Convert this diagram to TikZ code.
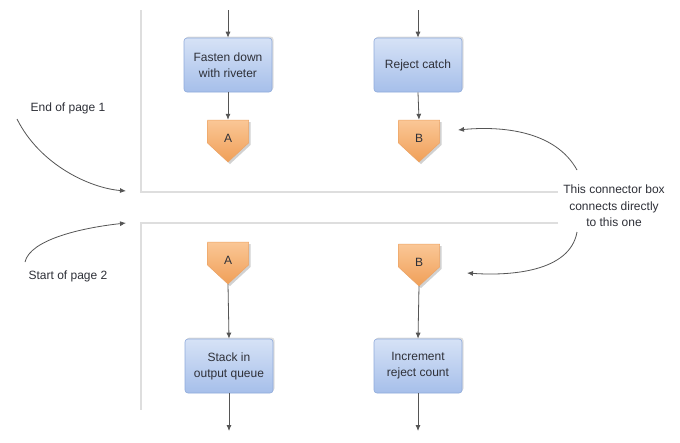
\documentclass[tikz,border=0pt]{standalone}
\usepackage{fontspec}
\setmainfont{Liberation Sans}
\usetikzlibrary{arrows.meta,shadows}
\definecolor{txt}{HTML}{2E3038}
\definecolor{arr}{HTML}{555555}
\definecolor{frm}{HTML}{DEDEDE}
\definecolor{boxtop}{HTML}{D6E2F6}
\definecolor{boxbot}{HTML}{A6BFEA}
\definecolor{boxedge}{HTML}{8FAADB}
\definecolor{contop}{HTML}{FAC796}
\definecolor{conbot}{HTML}{F09F58}
\definecolor{conedge}{HTML}{EDA465}
\tikzset{
  stepbox/.style={rectangle, rounded corners=3pt, draw=boxedge, line width=0.6pt,
    top color=boxtop, bottom color=boxbot, minimum width=88pt, minimum height=54pt,
    align=center, text=txt, font=\fontsize{12}{16}\selectfont,
    drop shadow={shadow xshift=1.5pt, shadow yshift=1.5pt, opacity=0.25}},
  conlabel/.style={inner sep=0pt, minimum width=41pt, minimum height=42pt, text=txt,
    font=\fontsize{12}{14}\selectfont},
  note/.style={align=center, text=txt, font=\fontsize{12}{16.5}\selectfont},
  flow/.style={draw=arr, line width=0.8pt, -{Latex[length=6pt,width=5pt]}},
  frame/.style={draw=frm, line width=1.6pt},
}
\newcommand\connbox[4]{%
  \fill[black, opacity=0.18] ({#2-19},{#3+2}) -- ({#2+22.5},{#3+2}) -- ({#2+22.5},{#3+25}) -- ({#2+2},{#3+44}) -- ({#2-18.5},{#3+25}) -- cycle;
  \shade[top color=contop, bottom color=conbot, draw=conedge, line width=0.5pt]
    ({#2-20.5},{#3}) -- ({#2+20.5},{#3}) -- ({#2+20.5},{#3+23}) -- ({#2},{#3+42}) -- ({#2-20.5},{#3+23}) -- cycle;
  \node[conlabel] (#1) at ({#2},{#3+21}) {\raisebox{5pt}{#4}};
}
\begin{document}
\begin{tikzpicture}[x=1pt,y=-1pt]
\useasboundingbox (0,0) rectangle (680,442);
\fill[white] (0,0) rectangle (680,442);
% page frames
\draw[frame] (141,10) -- (141,192) -- (558,192);
\draw[frame] (558,223) -- (141,223) -- (141,410);
% page 1
\coordinate (t1) at (228,10);
\coordinate (t2) at (418,10);
\node[stepbox] (fasten) at (228,65) {Fasten down\\with riveter};
\node[stepbox] (reject) at (418,65) {Reject catch};
\connbox{A1}{228}{120}{A}
\connbox{B1}{419}{120}{B}
\draw[flow] (t1) -- (fasten.north);
\draw[flow] (t2) -- (reject.north);
\draw[flow] (fasten.south) -- (A1.north);
\draw[flow] (reject.south) -- (B1.north);
% page 2
\connbox{A2}{228}{242}{A}
\connbox{B2}{419}{244}{B}
\node[stepbox] (stack) at (229,366) {Stack in\\output queue};
\node[stepbox] (incr) at (418,366) {Increment\\reject count};
\coordinate (b1) at (229,431);
\coordinate (b2) at (418,431);
\draw[flow] (A2.south) -- (stack.north);
\draw[flow] (B2.south) -- (incr.north);
\draw[flow] (stack.south) -- (b1);
\draw[flow] (incr.south) -- (b2);
% annotations
\node[note] (endp) at (68,108) {End of page 1};
\node[note] (startp) at (68,276) {Start of page 2};
\node[note] (conn) at (614,206) {This connector box\\connects directly\\to this one};
\coordinate (e1s) at (17,119);
\coordinate (e1e) at (126,191);
\coordinate (s2s) at (25,262);
\coordinate (s2e) at (126,223);
\coordinate (c1s) at (577,170);
\coordinate (c1e) at (458,130);
\coordinate (c2s) at (577,232);
\coordinate (c2e) at (467,273);
\draw[flow] (e1s) .. controls (40,165) and (90,188) .. (e1e);
\draw[flow] (s2s) .. controls (30,240) and (80,228) .. (s2e);
\draw[flow] (c1s) .. controls (555,130) and (500,126) .. (c1e);
\draw[flow] (c2s) .. controls (570,272) and (510,276) .. (c2e);
\end{tikzpicture}
\end{document}
